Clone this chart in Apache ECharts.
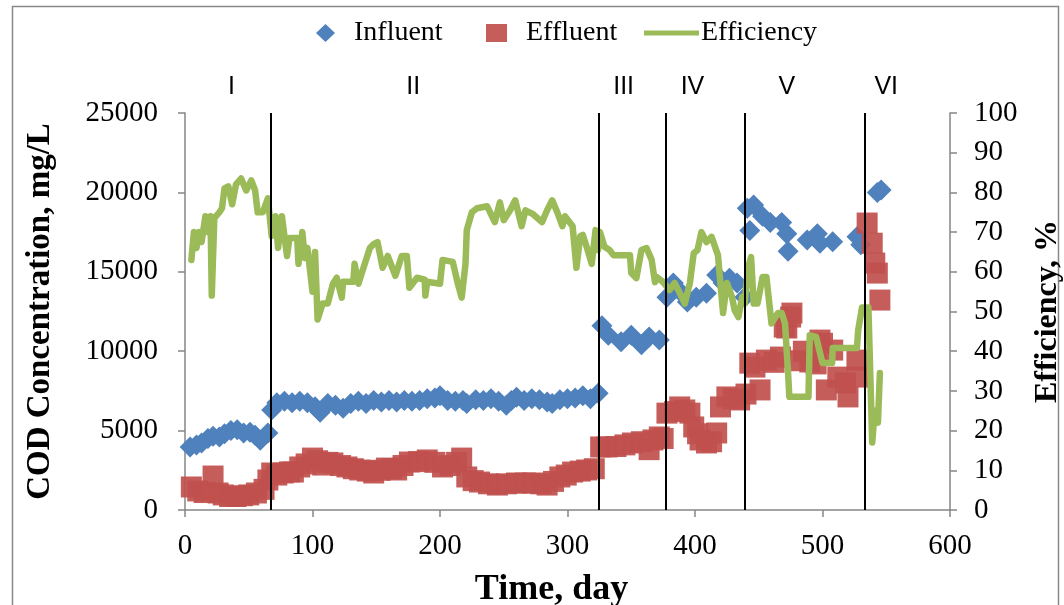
<!DOCTYPE html>
<html>
<head>
<meta charset="utf-8">
<script src="https://cdn.jsdelivr.net/npm/echarts@6/dist/echarts.min.js"></script>
<style>
html,body{margin:0;padding:0;background:#fff;}
#chart{width:1064px;height:605px;}
</style>
</head>
<body>
<div id="chart"></div>
<script>
// ---- data ----
const influent = [[4,3970],[9,4100],[13,4220],[18,4500],[22,4650],[27,4600],[31,4800],[36,5000],[41,5050],[46,4850],[51,4900],[55,4700],[59,4400],[65,4850],[68,6300],[72,6750],[78,6850],[84,6750],[90,6850],[96,6750],[102,6500],[106,6150],[112,6700],[118,6600],[124,6400],[130,6700],[136,6850],[142,6700],[148,6900],[154,6800],[160,6900],[166,6800],[172,6900],[178,6850],[184,6900],[190,7000],[196,7050],[200,7200],[206,6900],[212,6850],[218,6900],[221,6700],[228,6950],[234,6900],[240,7000],[246,6850],[252,6600],[256,6900],[260,7100],[266,6900],[272,7000],[278,6950],[284,6800],[288,6700],[294,6950],[300,7000],[306,7050],[312,7200],[318,7000],[324,7350],[327,11600],[332,11000],[342,10600],[350,11000],[358,10400],[364,10900],[372,10700],[378,13400],[383,14300],[389,13700],[394,13100],[401,13400],[409,13650],[417,14800],[422,14300],[427,14600],[433,14300],[439,13400],[441,19000],[443,17600],[446,19200],[453,18500],[459,18100],[468,18100],[472,17400],[473,16300],[488,17000],[496,17400],[498,16800],[508,16900],[527,17200],[530,16700],[543,20000],[546,20150]];

const effluent = [[5,1450],[10,1200],[15,1100],[22,2140],[26,1070],[30,950],[35,850],[40,850],[45,900],[50,950],[56,1070],[62,1300],[65,1890],[68,2330],[72,2200],[77,2330],[82,2400],[85,2390],[90,2710],[95,2900],[100,3270],[104,3100],[108,2830],[112,3000],[116,2960],[122,2800],[127,2710],[132,2600],[137,2520],[143,2450],[148,2330],[153,2500],[158,2640],[162,2600],[166,2520],[171,2800],[176,3020],[183,3050],[190,3150],[196,3000],[202,2710],[208,2800],[213,3000],[217,3270],[221,2080],[226,1850],[231,1760],[238,1650],[245,1570],[252,1650],[260,1700],[267,1700],[273,1700],[279,1650],[284,1570],[289,1800],[294,2080],[299,2200],[304,2390],[310,2450],[315,2520],[321,2600],[326,3970],[331,3970],[338,4000],[345,4100],[351,4220],[358,4300],[364,3800],[367,4410],[372,4600],[375,4500],[378,6100],[384,6200],[388,6490],[392,6300],[396,6100],[399,5230],[402,4800],[404,4410],[409,4220],[413,4300],[417,4850],[420,6490],[425,7120],[430,7000],[435,6930],[440,7300],[443,9250],[447,9000],[451,7560],[456,9440],[462,9300],[467,9630],[470,11520],[472,11460],[475,12150],[476,12400],[480,9400],[485,10000],[490,9320],[495,9200],[498,10700],[500,10500],[503,7560],[508,10070],[512,8370],[518,8000],[520,7120],[527,9440],[528,8370],[535,18070],[539,16800],[541,15550],[543,14920],[545,13220]];

const efficiency = [[5,63],[7,70],[9,66],[11,70],[13,67.5],[16,74],[18,70],[20,74],[21,54],[23,73.5],[27,75],[29,76],[31,81],[34,81.5],[37,77],[40,82],[44,83.5],[48,80.5],[52,83],[55,80.5],[57,75],[61,75],[65,78.5],[68,69],[71,74],[73,66],[76,74],[80,64],[82,68.5],[88,68.5],[89,62],[92,70],[94,63.5],[96,66],[100,55],[102,65],[104,48],[108,52],[112,52],[116,57],[119,58.5],[123,53.5],[124,57.5],[132,57.5],[133,62],[136,57],[140,61],[145,66],[148,67],[151,67.5],[155,61],[159,64],[165,59],[170,64],[174,64],[176,56],[182,58.5],[188,58],[188.5,54],[190,57.5],[200,57],[202,63],[210,62.5],[214,57],[217,53.5],[220,62],[221,70.5],[225,75],[229,76],[237,76.5],[243,72.5],[247,77.5],[250,73],[255,75.5],[259,78],[264,71.5],[267,75.5],[273,74.5],[280,72.5],[284,75.5],[288,78],[292,75],[296,71.5],[298,74],[304,71.5],[307,61],[310,69],[312,69.3],[315,66.3],[319,62],[322,70.5],[324,65.5],[325.5,70],[329,66.3],[333,65.5],[336,64.2],[349,64.2],[350,59.7],[354,58.4],[358,65.5],[362,66],[366,63],[368.6,57.4],[370,58.7],[375,57.4],[380,55.4],[384,57.2],[388,54.7],[392,52],[396,57.2],[399,64.7],[402,65.5],[405,70],[409,67.5],[413,68.8],[418,64.2],[422,49.6],[425,57.2],[429,53.7],[431,50.4],[434,48.6],[437,53.7],[439,52],[441.5,61],[444,63.7],[446,52],[449,52],[453,58.7],[456,58.7],[460,47],[465,49.6],[468,49.6],[470.6,47],[473,34.5],[474,28.5],[489,28.5],[490,44],[495,43.6],[500,37],[507.5,37],[508,40.8],[527,40.8],[528,45.3],[531,51],[536,51],[539,17],[541,25],[543.5,22],[545,34.5]];

const phaseBoundaries = [67.5, 324.7, 377, 439, 533];
const phaseNames = ['I', 'II', 'III', 'IV', 'V', 'VI'];
const phaseLabelDays = [36.5, 179, 344, 398, 472, 550];

const xTicks = [0, 100, 200, 300, 400, 500, 600];
const leftTicks = [0, 5000, 10000, 15000, 20000, 25000];
const rightTicks = [0, 10, 20, 30, 40, 50, 60, 70, 80, 90, 100];

// ---- chart ----
const SERIF = '"Liberation Serif", "Times New Roman", serif';
const AXIS_GRAY = '#868686';
const chart = echarts.init(document.getElementById('chart'), null, {renderer: 'canvas'});

const axisCommon = {
  axisLine: {show: true, lineStyle: {color: AXIS_GRAY, width: 1.5}},
  axisTick: {show: true, inside: false, length: 7, lineStyle: {color: AXIS_GRAY, width: 1.5}},
  splitLine: {show: false},
  axisLabel: {color: '#000', fontFamily: SERIF, fontSize: 29, formatter: v => String(v)},
  nameTextStyle: {color: '#000', fontFamily: SERIF, fontSize: 32, fontWeight: 'bold'}
};

const option = {
  animation: false,
  backgroundColor: '#fff',
  textStyle: {fontFamily: SERIF},
  grid: {left: 185, right: 114, top: 113, bottom: 95, containLabel: false, outerBoundsMode: 'none'},
  legend: [
    {data: ['Influent'], left: 311, top: 14, itemWidth: 19, itemHeight: 18, icon: 'diamond',
     textStyle: {fontFamily: SERIF, fontSize: 28, color: '#000', padding: [0, 0, 0, 14]}},
    {data: ['Effluent'], left: 481, top: 14, itemWidth: 21, itemHeight: 18, icon: 'rect',
     textStyle: {fontFamily: SERIF, fontSize: 28, color: '#000', padding: [0, 0, 0, 14]}},
    {data: ['Efficiency'], left: 639, top: 14, itemWidth: 55, itemHeight: 5, icon: 'rect',
     textStyle: {fontFamily: SERIF, fontSize: 28, color: '#000', padding: [0, 0, 0, -3]}}
  ],
  xAxis: Object.assign({}, axisCommon, {
    type: 'value', min: xTicks[0], max: xTicks[xTicks.length - 1], interval: 100,
    name: 'Time, day', nameLocation: 'middle', nameGap: 62,
    nameTextStyle: Object.assign({}, axisCommon.nameTextStyle, {fontSize: 36, padding: [0, 32, 0, 0]}),
    axisLabel: Object.assign({}, axisCommon.axisLabel, {margin: 22})
  }),
  yAxis: [
    Object.assign({}, axisCommon, {
      type: 'value', min: leftTicks[0], max: leftTicks[leftTicks.length - 1], interval: 5000,
      position: 'left',
      name: 'COD Concentration, mg/L', nameLocation: 'middle', nameGap: 128,
      nameTextStyle: Object.assign({}, axisCommon.nameTextStyle, {fontSize: 33}),
      axisLabel: Object.assign({}, axisCommon.axisLabel, {margin: 27})
    }),
    Object.assign({}, axisCommon, {
      type: 'value', min: rightTicks[0], max: rightTicks[rightTicks.length - 1], interval: 10,
      position: 'right',
      name: 'Efficiency, %', nameLocation: 'middle', nameGap: 82, nameRotate: 90,
      nameTextStyle: Object.assign({}, axisCommon.nameTextStyle, {fontSize: 32}),
      axisLabel: Object.assign({}, axisCommon.axisLabel, {margin: 24})
    })
  ],
  series: [
    {
      name: 'Influent', type: 'scatter', yAxisIndex: 0, data: influent,
      symbol: 'diamond', symbolSize: [21, 21],
      itemStyle: {color: '#4F81BD', opacity: 1}, z: 2
    },
    {
      name: 'Effluent', type: 'scatter', yAxisIndex: 0, data: effluent,
      symbol: 'rect', symbolSize: 21,
      itemStyle: {color: '#C0504D', opacity: 0.92}, z: 3
    },
    {
      name: 'Efficiency', type: 'line', yAxisIndex: 1, data: efficiency,
      symbol: 'none', showSymbol: false,
      lineStyle: {color: '#9BBB59', width: 6.5, join: 'round', cap: 'round'},
      itemStyle: {color: '#9BBB59'}, z: 4,
      markLine: {
        silent: true, symbol: ['none', 'none'], animation: false,
        label: {show: false},
        lineStyle: {color: '#000', width: 2, type: 'solid'},
        data: phaseBoundaries.map(d => ({xAxis: d}))
      }
    }
  ]
};
chart.setOption(option);

// phase labels above the plot, placed through the x scale
const gridTop = 113;
const labels = phaseNames.map((n, i) => ({
  type: 'text',
  x: chart.convertToPixel({xAxisIndex: 0}, phaseLabelDays[i]),
  y: gridTop - 26,
  style: {text: n, fill: '#000', font: '25px "Liberation Sans", Arial, sans-serif',
          textAlign: 'center', textVerticalAlign: 'middle'},
  z: 10
}));
labels.push({
  type: 'rect', shape: {x: 12.5, y: 6.5, width: 1046, height: 640},
  style: {fill: 'none', stroke: '#888', lineWidth: 1.5}, z: 0, silent: true
});
chart.setOption({graphic: labels});
</script>
</body>
</html>
